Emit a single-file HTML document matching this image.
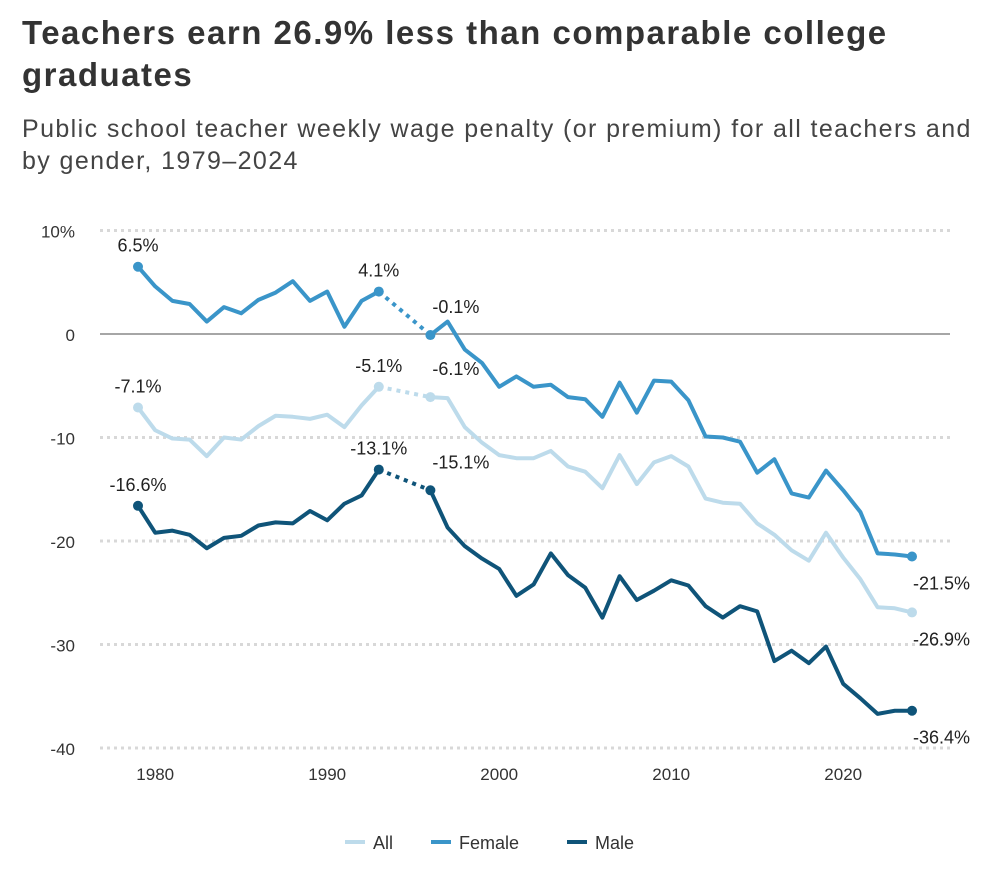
<!DOCTYPE html>
<html><head><meta charset="utf-8"><style>
body{margin:0;width:1000px;height:870px;background:#fff;font-family:"Liberation Sans",sans-serif;overflow:hidden}
h1{position:absolute;left:22px;top:12px;margin:0;font-size:33px;letter-spacing:1.5px;line-height:42px;font-weight:bold;color:#333;width:920px}
.sub{position:absolute;left:22px;top:113px;font-size:25px;letter-spacing:1.4px;line-height:32px;color:#444;width:970px}
svg{position:absolute;left:0;top:0}
</style></head><body>
<h1>Teachers earn 26.9% less than comparable college graduates</h1>
<div class="sub">Public school teacher weekly wage penalty (or premium) for all teachers and by gender, 1979–2024</div>
<svg id="chart" width="1000" height="870"></svg>
<script>
const years1=[1979,1980,1981,1982,1983,1984,1985,1986,1987,1988,1989,1990,1991,1992,1993];
const years2=[1996,1997,1998,1999,2000,2001,2002,2003,2004,2005,2006,2007,2008,2009,2010,2011,2012,2013,2014,2015,2016,2017,2018,2019,2020,2021,2022,2023,2024];
const female1=[6.5,4.6,3.2,2.9,1.2,2.6,2.0,3.3,4.0,5.1,3.2,4.1,0.7,3.2,4.1];
const female2=[-0.1,1.2,-1.5,-2.8,-5.1,-4.1,-5.1,-4.9,-6.1,-6.3,-8.0,-4.7,-7.6,-4.5,-4.6,-6.4,-9.9,-10.0,-10.4,-13.4,-12.1,-15.4,-15.8,-13.2,-15.1,-17.2,-21.2,-21.3,-21.5];
const all1=[-7.1,-9.3,-10.1,-10.2,-11.8,-10.0,-10.2,-8.9,-7.9,-8.0,-8.2,-7.8,-9.0,-6.9,-5.1];
const all2=[-6.1,-6.2,-9.0,-10.5,-11.7,-12.0,-12.0,-11.3,-12.8,-13.3,-14.9,-11.7,-14.5,-12.4,-11.8,-12.8,-15.9,-16.3,-16.4,-18.3,-19.4,-20.9,-21.9,-19.2,-21.6,-23.7,-26.4,-26.5,-26.9];
const male1=[-16.6,-19.2,-19.0,-19.4,-20.7,-19.7,-19.5,-18.5,-18.2,-18.3,-17.1,-18.0,-16.4,-15.6,-13.1];
const male2=[-15.1,-18.7,-20.5,-21.7,-22.7,-25.3,-24.2,-21.2,-23.3,-24.5,-27.4,-23.4,-25.7,-24.8,-23.8,-24.3,-26.3,-27.4,-26.3,-26.8,-31.6,-30.6,-31.8,-30.2,-33.8,-35.2,-36.7,-36.4,-36.4];
const yTicks=[10,0,-10,-20,-30,-40];
const yTickLabels=["10%","0","-10","-20","-30","-40"];
const xTicks=[1980,1990,2000,2010,2020];

const svg=document.getElementById('chart');const NS='http://www.w3.org/2000/svg';
const x=v=>138+(v-1979)*17.2;
const y=v=>334-v*10.35;
function mk(t,a,p){const e=document.createElementNS(NS,t);for(const k in a)e.setAttribute(k,a[k]);(p||svg).appendChild(e);return e;}
yTicks.forEach((t,i)=>{
  const g=mk('line',{x1:100,x2:950,y1:y(t),y2:y(t),stroke:t===0?'#888':'#d8d8d8','stroke-width':t===0?1.5:3,'stroke-dasharray':t===0?'':'3 4'});
  
  
  const l=mk('text',{x:75,y:y(t)+7,'text-anchor':'end','font-size':17,fill:'#333'});l.textContent=yTickLabels[i];
  
  
});
xTicks.forEach(t=>{
  const l=mk('text',{x:x(t),y:780,'text-anchor':'middle','font-size':17,fill:'#333'});l.textContent=t;
  
  
});
const series=[
 {name:'all',c:'#bddbeb',a:all1,b:all2},
 {name:'female',c:'#3a95c9',a:female1,b:female2},
 {name:'male',c:'#0f5479',a:male1,b:male2}];
function pts(ys,vs){return ys.map((yr,i)=>x(yr)+','+y(vs[i])).join(' ');}
series.forEach(s=>{
  const p1=mk('polyline',{points:pts(years1,s.a),fill:'none',stroke:s.c,'stroke-width':4,'stroke-linejoin':'round'});
  
  
  const d=mk('line',{x1:x(years1[years1.length-1]),y1:y(s.a[s.a.length-1]),x2:x(years2[0]),y2:y(s.b[0]),stroke:s.c,'stroke-width':4,'stroke-dasharray':'4 5'});
  
  
  const p2=mk('polyline',{points:pts(years2,s.b),fill:'none',stroke:s.c,'stroke-width':4,'stroke-linejoin':'round'});
  
  
  [[years1[0],s.a[0]],[years1[years1.length-1],s.a[s.a.length-1]],[years2[0],s.b[0]],[years2[years2.length-1],s.b[s.b.length-1]]].forEach(([yr,v],k)=>{
    const c=mk('circle',{cx:x(yr),cy:y(v),r:5,fill:s.c});
    
    
    const lbl=v.toFixed(1)+'%';
    let tx=x(yr),ty=y(v)-15,anc='middle';
    if(k===2){tx=x(yr)+2;anc='start';ty=y(v)-22;}
    if(k===3){tx=x(yr)+58;anc='end';ty=y(v)+33;}
    const t=mk('text',{x:tx,y:ty,'text-anchor':anc,'font-size':18,fill:'#222'});t.textContent=lbl;
    
    
  });
});
const legend=[['All','#bddbeb',345],['Female','#3a95c9',431],['Male','#0f5479',567]];
legend.forEach(([n,c,lx])=>{
  const g=mk('g',{});
  
  
  mk('line',{x1:lx,x2:lx+20,y1:842,y2:842,stroke:c,'stroke-width':4},g);
  const t=mk('text',{x:lx+28,y:849,'font-size':18,fill:'#333'},g);t.textContent=n;
});
</script>
</body></html>
